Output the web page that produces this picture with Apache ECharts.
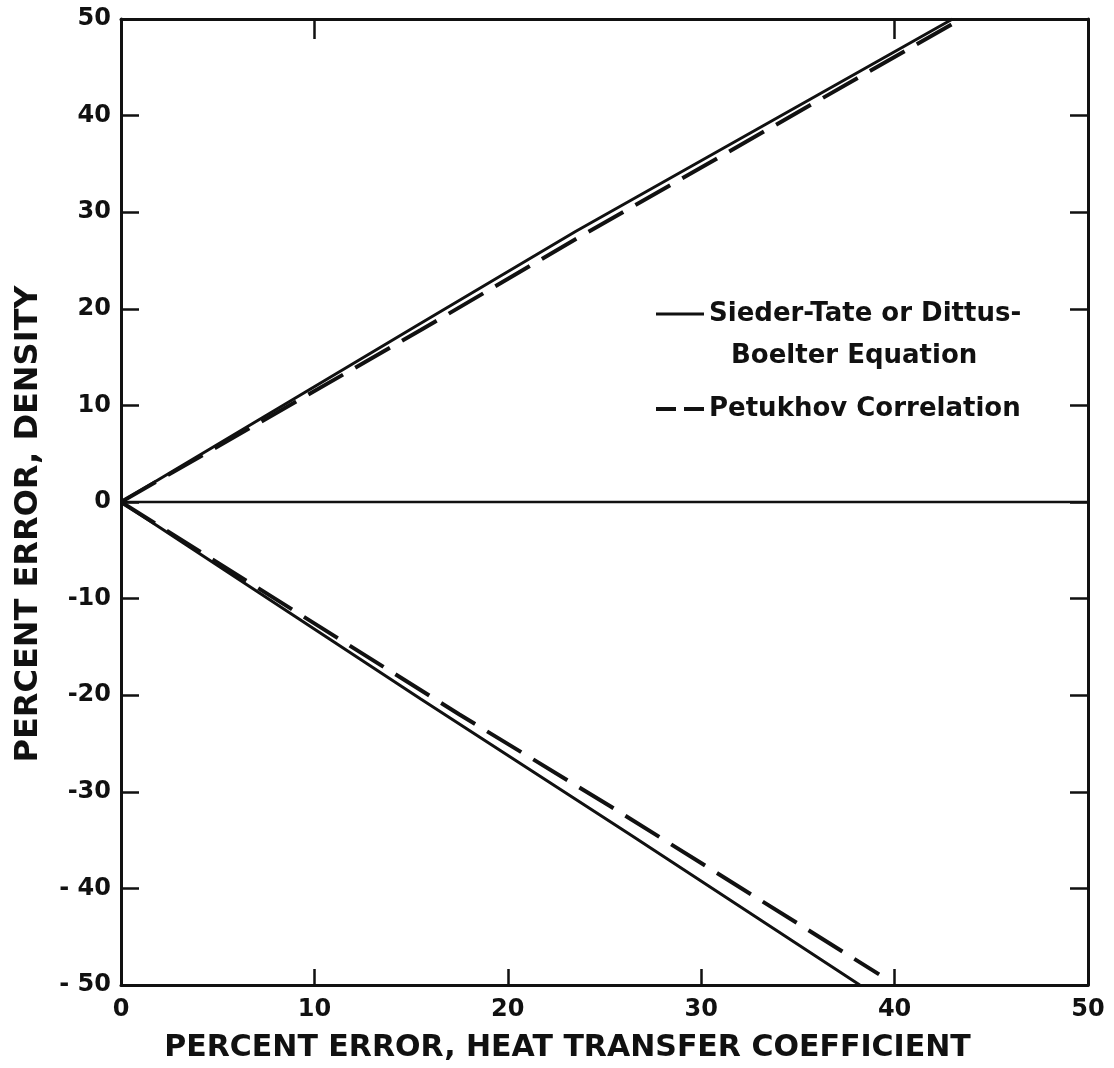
<!DOCTYPE html>
<html>
<head>
<meta charset="utf-8">
<script src="https://cdn.jsdelivr.net/npm/echarts@6/dist/echarts.min.js"></script>
<style>
html,body{margin:0;padding:0;background:#ffffff;}
#chart{width:1114px;height:1068px;}
</style>
</head>
<body>
<div id="chart"></div>
<script>
// ---- data ----
var xTickValues = [0, 10, 20, 30, 40, 50];
var xTickLabels = ['0', '10', '20', '30', '40', '50'];
var yTickValues = [-50, -40, -30, -20, -10, 0, 10, 20, 30, 40, 50];
var yTickLabels = ['- 50', '- 40', '-30', '-20', '-10', '0', '10', '20', '30', '40', '50'];

var nameSolid = 'Sieder-Tate or Dittus-Boelter Equation';
var nameDashed = 'Petukhov Correlation';

var solidUpper = [[0, 0], [15.5, 18.5], [23.5, 28.0], [43.0, 50]];
var solidLower = [[0, 0], [15.5, -20.4], [26.3, -34.4], [38.2, -50]];
var dashedUpper = [[0, 0], [15.5, 17.8], [23.5, 27.2], [43.0, 49.5]];
var dashedLower = [[0, 0], [17.5, -22.0], [25.3, -31.5], [39.2, -48.9]];
var zeroLine = [[0, 0], [50, 0]];

var xName = 'PERCENT ERROR, HEAT TRANSFER COEFFICIENT';
var yName = 'PERCENT ERROR, DENSITY';

// ---- chart ----
var ink = '#111111';
var font = 'DejaVu Sans';
var chart = echarts.init(document.getElementById('chart'), null, {renderer: 'canvas'});

function lbl(values, labels) {
  return function (v) {
    var i = values.indexOf(Math.round(v));
    return i >= 0 ? labels[i] : '';
  };
}

var tickLabelStyle = {
  fontFamily: font, fontSize: 24, fontWeight: 'bold', color: ink
};

var option = {
  backgroundColor: '#ffffff',
  animation: false,
  grid: {left: 121, right: 26, top: 19, bottom: 82, containLabel: false},
  legend: {
    left: 654, top: 301, orient: 'vertical', padding: 0,
    itemWidth: 48, itemHeight: 14, itemGap: 27,
    itemStyle: {opacity: 0},
    data: [
      {name: nameSolid, textStyle: {padding: [42, 0, 0, 0]}, lineStyle: {width: 3}},
      {name: nameDashed, lineStyle: {type: [20, 8], width: 4}}
    ],
    formatter: function (n) {
      if (n === nameSolid) {
        return '{a|Sieder-Tate or Dittus-}\n{b|Boelter Equation}';
      }
      return '{a|' + n + '}';
    },
    textStyle: {
      fontFamily: font, fontSize: 26, fontWeight: 'bold', color: ink,
      rich: {
        a: {fontFamily: font, fontSize: 26, fontWeight: 'bold', color: ink, lineHeight: 42},
        b: {fontFamily: font, fontSize: 26, fontWeight: 'bold', color: ink, lineHeight: 42, padding: [0, 0, 0, 22]}
      }
    }
  },
  xAxis: [
    {
      type: 'value', position: 'bottom', min: 0, max: 50, interval: 10,
      axisLine: {show: true, onZero: false, lineStyle: {color: ink, width: 3}},
      axisTick: {show: true, inside: true, length: 16, lineStyle: {color: ink, width: 2.5}},
      axisLabel: Object.assign({margin: 13, formatter: lbl(xTickValues, xTickLabels)}, tickLabelStyle),
      splitLine: {show: false},
      name: xName, nameLocation: 'middle', nameGap: 48,
      nameTextStyle: {fontFamily: font, fontSize: 30, fontWeight: 'bold', color: ink, padding: [0, 74, 0, 0]}
    },
    {
      type: 'value', position: 'top', min: 0, max: 50, interval: 10,
      axisLine: {show: true, onZero: false, lineStyle: {color: ink, width: 3}},
      axisTick: {show: true, inside: true, length: 20, customValues: [10, 40], lineStyle: {color: ink, width: 2.5}},
      axisLabel: {show: false},
      splitLine: {show: false}
    }
  ],
  yAxis: [
    {
      type: 'value', position: 'left', min: -50, max: 50, interval: 10,
      axisLine: {show: true, onZero: false, lineStyle: {color: ink, width: 3}},
      axisTick: {show: true, inside: true, length: 18, lineStyle: {color: ink, width: 2.5}},
      axisLabel: Object.assign({margin: 10, formatter: lbl(yTickValues, yTickLabels)}, tickLabelStyle),
      splitLine: {show: false},
      name: yName, nameLocation: 'middle', nameGap: 76, nameRotate: 90,
      nameTextStyle: {fontFamily: font, fontSize: 32, fontWeight: 'bold', color: ink, padding: [0, 44, 0, 0]}
    },
    {
      type: 'value', position: 'right', min: -50, max: 50, interval: 10,
      axisLine: {show: true, onZero: false, lineStyle: {color: ink, width: 3}},
      axisTick: {show: true, inside: true, length: 18, lineStyle: {color: ink, width: 2.5}},
      axisLabel: {show: false},
      splitLine: {show: false}
    }
  ],
  series: [
    {
      name: nameSolid, type: 'line', data: solidUpper, symbol: 'none', silent: true,
      lineStyle: {color: ink, width: 3}, itemStyle: {color: ink}
    },
    {
      name: nameSolid, type: 'line', data: solidLower, symbol: 'none', silent: true,
      lineStyle: {color: ink, width: 3}, itemStyle: {color: ink}
    },
    {
      name: nameDashed, type: 'line', data: dashedUpper, symbol: 'none', silent: true,
      lineStyle: {color: ink, width: 4, type: [40, 14]}, itemStyle: {color: ink}
    },
    {
      name: nameDashed, type: 'line', data: dashedLower, symbol: 'none', silent: true,
      lineStyle: {color: ink, width: 4, type: [40, 14]}, itemStyle: {color: ink}
    },
    {
      name: 'zero', type: 'line', data: zeroLine, symbol: 'none', silent: true,
      lineStyle: {color: ink, width: 2.5}, itemStyle: {color: ink}
    }
  ]
};
chart.setOption(option);
</script>
</body>
</html>
